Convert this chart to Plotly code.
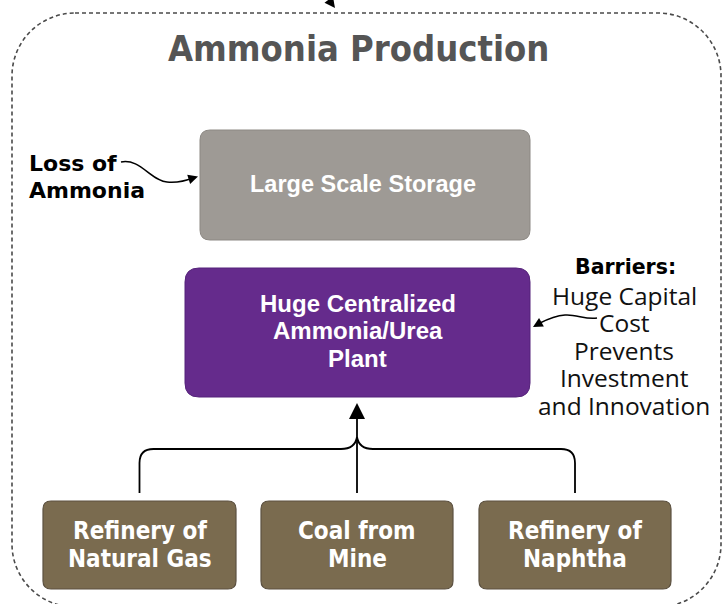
import plotly.graph_objects as go

# ---------------- content ----------------
TITLE = "Ammonia Production"
STORAGE_LABEL = ["Large Scale Storage"]
PLANT_LABEL = ["Huge Centralized", "Ammonia/Urea", "Plant"]
SOURCE_LABELS = [["Refinery of", "Natural Gas"], ["Coal from", "Mine"], ["Refinery of", "Naphtha"]]
LOSS_LABEL = ["Loss of", "Ammonia"]
BARRIER_HEAD = "Barriers:"
BARRIER_LINES = ["Huge Capital", "Cost", "Prevents", "Investment", "and Innovation"]

# ---------------- geometry (pixels, y down) ----------------
W, H = 723, 604
STORAGE_BOX = (200, 130, 530, 240)
PLANT_BOX = (185, 268, 530, 397)
SOURCE_BOXES = [(43, 501, 236, 589), (261, 501, 453, 589), (479, 501, 671, 589)]

C_GRAY = "#9e9a95"
C_PURPLE = "#652b8c"
C_BROWN = "#7a6b4f"

NARROW = "DejaVu Sans Condensed, DejaVu Sans, sans-serif"
BOLDF = "Liberation Sans, Arial, sans-serif"
HEAVY = "DejaVu Sans, sans-serif"
BODY = "Open Sans, Noto Sans, sans-serif"


def rrect(x0, y0, x1, y1, r):
    return (f"M{x0+r},{y0} H{x1-r} Q{x1},{y0} {x1},{y0+r} V{y1-r} Q{x1},{y1} {x1-r},{y1} "
            f"H{x0+r} Q{x0},{y1} {x0},{y1-r} V{y0+r} Q{x0},{y0} {x0+r},{y0} Z")


def crect(x0, y0, x1, y1, r):
    k = 0.5523 * r
    return (f"M{x0+r},{y0} H{x1-r} C{x1-r+k},{y0} {x1},{y0+r-k} {x1},{y0+r} V{y1-r} "
            f"C{x1},{y1-r+k} {x1-r+k},{y1} {x1-r},{y1} H{x0+r} C{x0+r-k},{y1} {x0},{y1-r+k} {x0},{y1-r} "
            f"V{y0+r} C{x0},{y0+r-k} {x0+r-k},{y0} {x0+r},{y0} Z")


shapes = []
annotations = []

# dashed outer border
shapes.append(dict(type="path", path=crect(12, 13, 721, 607, 63),
                   line=dict(color="#4a4a4a", width=1.6, dash="4px,3px"), fillcolor="rgba(0,0,0,0)", layer="below"))

# boxes
shapes.append(dict(type="path", path=rrect(*STORAGE_BOX, 10), fillcolor=C_GRAY,
                   line=dict(color="#8c8883", width=1)))
shapes.append(dict(type="path", path=rrect(*PLANT_BOX, 14), fillcolor=C_PURPLE,
                   line=dict(color="#55237a", width=1)))
for b in SOURCE_BOXES:
    shapes.append(dict(type="path", path=rrect(*b, 8), fillcolor=C_BROWN,
                       line=dict(color="#5c5141", width=1.2)))

# connectors
cx = [(b[0] + b[2]) / 2 for b in SOURCE_BOXES]
mid = cx[1]
shapes.append(dict(type="path", path=f"M{cx[0]},493 V463 Q{cx[0]},449 {cx[0]+14},449 H{mid-16} Q{mid-2},449 {mid},437",
                   line=dict(color="black", width=1.8)))
shapes.append(dict(type="path", path=f"M{cx[2]},493 V463 Q{cx[2]},449 {cx[2]-14},449 H{mid+16} Q{mid+2},449 {mid},437",
                   line=dict(color="black", width=1.8)))
shapes.append(dict(type="line", x0=mid, y0=493, x1=mid, y1=412, line=dict(color="black", width=1.8)))
annotations.append(dict(x=mid, y=403, ax=mid, ay=416, xref="x", yref="y", axref="x", ayref="y",
                        showarrow=True, arrowhead=2, arrowsize=1.6, arrowwidth=2, arrowcolor="black", text=""))

# loss arrow
shapes.append(dict(type="path", path="M121,162 C140,158 151,181 167,182 C179,183 188,180 193,178",
                   line=dict(color="black", width=1.5)))
annotations.append(dict(x=198, y=176.5, ax=190, ay=179, xref="x", yref="y", axref="x", ayref="y",
                        showarrow=True, arrowhead=2, arrowsize=1.3, arrowwidth=1.5, arrowcolor="black", text=""))

# barriers arrow
shapes.append(dict(type="path", path="M597,318 C586,320 576,314 565,315 C553,316 544,321 538,324",
                   line=dict(color="black", width=1.5)))
annotations.append(dict(x=533, y=327, ax=540, ay=323, xref="x", yref="y", axref="x", ayref="y",
                        showarrow=True, arrowhead=2, arrowsize=1.3, arrowwidth=1.5, arrowcolor="black", text=""))

# top arrow stub
annotations.append(dict(x=335, y=8, ax=323, ay=-8, xref="x", yref="y", axref="x", ayref="y",
                        showarrow=True, arrowhead=2, arrowsize=1.4, arrowwidth=1.5, arrowcolor="black", text=""))


def text(x, y, s, size, family, color, xanchor="center", bold=False):
    annotations.append(dict(x=x, y=y, xref="x", yref="y", text=(f"<b>{s}</b>" if bold else s),
                            showarrow=False, xanchor=xanchor, yanchor="middle",
                            font=dict(size=size, family=family, color=color)))


# title
text(358, 48, TITLE, 36, NARROW, "#555555", bold=True)

# storage label
text((STORAGE_BOX[0] + STORAGE_BOX[2]) / 2 - 2, 184, STORAGE_LABEL[0], 23.5, BOLDF, "white", bold=True)

# plant label
pcx = (PLANT_BOX[0] + PLANT_BOX[2]) / 2
for i, s in enumerate(PLANT_LABEL):
    text(pcx, 303 + i * 27.5, s, 24, BOLDF, "white", bold=True)

# sources
for b, lines in zip(SOURCE_BOXES, SOURCE_LABELS):
    bx = (b[0] + b[2]) / 2
    for i, s in enumerate(lines):
        text(bx, 531 + i * 27.5, s, 24, NARROW, "white", bold=True)

# loss of ammonia
for i, s in enumerate(LOSS_LABEL):
    text(27, 163 + i * 27, s, 22, HEAVY, "black", xanchor="left", bold=True)

# barriers
text(625, 267, BARRIER_HEAD, 20.5, HEAVY, "black", bold=True)
for i, s in enumerate(BARRIER_LINES):
    text(624, 295 + i * 27.6, s, 24.5, BODY, "#111111")

fig = go.Figure()
fig.update_layout(
    width=W, height=H, margin=dict(l=0, r=0, t=0, b=0),
    paper_bgcolor="white", plot_bgcolor="white",
    xaxis=dict(range=[0, W], visible=False, fixedrange=True),
    yaxis=dict(range=[H, 0], visible=False, fixedrange=True),
    shapes=shapes, annotations=annotations, showlegend=False,
)
fig.write_html("out.html", config={"displayModeBar": False},
               post_script="document.body.style.margin='0px';document.body.style.overflow='hidden';")
